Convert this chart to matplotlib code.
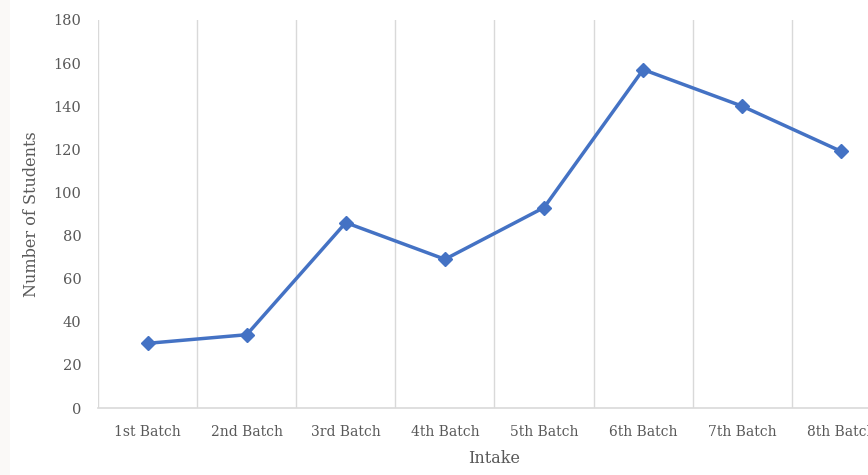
import matplotlib.pyplot as plt
import numpy as np

batches = ["1st Batch", "2nd Batch", "3rd Batch", "4th Batch",
           "5th Batch", "6th Batch", "7th Batch", "8th Batch"]
students = [30, 34, 86, 69, 93, 157, 140, 119]
yticks = [0, 20, 40, 60, 80, 100, 120, 140, 160, 180]

plt.rcParams['font.family'] = ['DejaVu Serif']

fig = plt.figure(figsize=(8.68, 4.75), dpi=100)
fig.patch.set_facecolor('white')
# faint off-white strip on the far left of the original screenshot
fig.patches.append(plt.Rectangle((0, 0), 10/868, 1, transform=fig.transFigure,
                                 facecolor='#faf9f7', edgecolor='none'))
# the plot area runs off the right edge in the original (8th label is cut too)
ax = fig.add_axes([98/868, 67/475, 793/868, 388/475])
ax.set_facecolor('white')

x = np.arange(len(batches))
ax.plot(x, students, color='#4472C4', lw=2.5, marker='D', ms=7, zorder=3)

ax.set_xlim(-0.5, len(batches) - 0.5)
ax.set_ylim(0, 180)
ax.set_yticks(yticks)
ax.set_xticks(x)
ax.set_xticklabels(batches, fontsize=10, color='#595959')
ax.tick_params(axis='y', labelsize=10.5, colors='#595959', length=0, pad=12)
ax.tick_params(axis='x', length=0, pad=12)

# vertical grid lines between categories
for b in np.arange(-0.5, len(batches), 1.0):
    ax.axvline(b, color='#d9d9d9', lw=1, zorder=1)

for s in ['top', 'right', 'left']:
    ax.spines[s].set_visible(False)
ax.spines['bottom'].set_color('#d9d9d9')
ax.spines['bottom'].set_linewidth(1.2)

ax.set_ylabel("Number of Students", fontsize=11.5, color='#595959', labelpad=10)
ax.set_xlabel("Intake", fontsize=11.5, color='#595959', labelpad=8)

fig.savefig("out.png", dpi=100, facecolor=fig.get_facecolor())
